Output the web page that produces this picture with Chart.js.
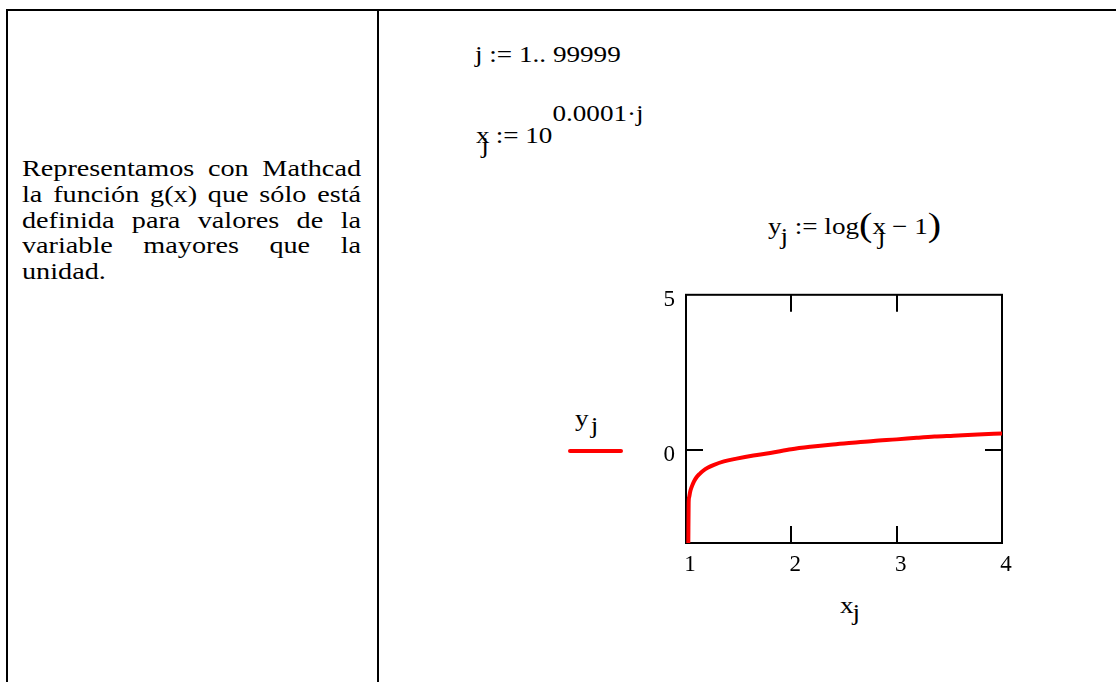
<!DOCTYPE html>
<html>
<head>
<meta charset="utf-8">
<script src="https://cdn.jsdelivr.net/npm/chart.js@4/dist/chart.umd.min.js"></script>
<style>
  html, body { margin: 0; padding: 0; background: #fff; }
  #page {
    position: relative; width: 1116px; height: 682px; overflow: hidden;
    font-family: "Liberation Serif", "Times New Roman", serif; color: #000;
  }
  .rule { position: absolute; background: #000; }
  .desc {
    position: absolute; left: 22px; top: 156px; width: 282.5px;
    font-size: 23.5px; line-height: 25.75px;
    transform: scaleX(1.2); transform-origin: 0 0;
  }
  .desc div { text-align: justify; text-align-last: justify; white-space: nowrap; }
  .desc div.last { text-align-last: left; }
  .m {
    position: absolute; font-size: 23px; line-height: 23px; white-space: nowrap;
    transform: scaleX(1.18); transform-origin: 0 0;
  }
  .sub { position: relative; top: 10px; }
  .sup { position: relative; top: -22px; }
  .big { font-size: 34px; position: relative; top: 2px; }
  #plot { position: absolute; left: 540px; top: 270px; }
  .key { position: absolute; left: 568px; top: 449px; width: 55px; height: 4px; border-radius: 2px; background: #ff0000; }
</style>
</head>
<body>
<div id="page">
  <!-- table rules -->
  <div class="rule" style="left:6px;top:9px;width:1110px;height:2px;"></div>
  <div class="rule" style="left:6px;top:9px;width:2px;height:673px;"></div>
  <div class="rule" style="left:377px;top:9px;width:2px;height:673px;"></div>

  <div class="desc">
    <div>Representamos con Mathcad</div>
    <div>la función g(x) que sólo está</div>
    <div>definida para valores de la</div>
    <div>variable mayores que la</div>
    <div class="last">unidad.</div>
  </div>

  <!-- worksheet definitions -->
  <div class="m" style="left:475px;top:43px;">j := 1.. 99999</div>
  <div class="m" style="left:476px;top:124px;">x<span class="sub" style="margin-left:-7px;">j</span> := 10<span class="sup">0.0001·j</span></div>
  <div class="m" style="left:768px;top:211px;">y<span class="sub" style="margin-left:-1px;">j</span> := log<span class="big">(</span>x<span class="sub" style="margin-left:-7px;">j</span> &#8722; 1<span class="big">)</span></div>

  <!-- series key and axis titles -->
  <div class="m" style="left:575px;top:407px;">y <span class="sub" style="top:7px;margin-left:-4px;">j</span></div>
  <div class="key"></div>
  <div class="m" style="left:840px;top:594px;">x<span class="sub" style="top:7px;margin-left:-1px;">j</span></div>

  <canvas id="plot" width="500" height="370" style="width:500px;height:370px;"></canvas>
</div>

<script>
// g(x) = log(x - 1), sampled points of the plotted curve
const xValues = [1.022, 1.025, 1.030, 1.040, 1.054, 1.075, 1.10, 1.13, 1.16, 1.21, 1.26, 1.36, 1.48, 1.64, 1.80,
                 2.00, 2.18, 2.37, 2.58, 2.78, 3.00, 3.19, 3.36, 3.54, 3.77, 4.00];
const yValues = [-3.00, -1.72, -1.52, -1.34, -1.19, -1.02, -0.88, -0.77, -0.68, -0.57, -0.49, -0.37, -0.28, -0.18, -0.10,
                 0.02, 0.10, 0.17, 0.23, 0.29, 0.34, 0.39, 0.43, 0.46, 0.50, 0.53];

// axis limits and labelled ticks
const xRange = [1, 4];
const yRange = [-3, 5];
const xTickLabels = [1, 2, 3, 4];
const yTickLabels = [0, 5];

const tickFont = { family: '"Liberation Serif", "Times New Roman", serif', size: 23 };

// Mathcad-style box with short inward tick marks at the interior ticks
const boxFrame = {
  id: 'boxFrame',
  beforeDatasetsDraw(chart) {
    const { ctx, chartArea: a, scales } = chart;
    const len = 17;
    ctx.save();
    ctx.strokeStyle = '#000';
    ctx.lineWidth = 2;
    ctx.strokeRect(a.left, a.top, a.right - a.left, a.bottom - a.top);
    ctx.beginPath();
    xTickLabels.filter(v => v > xRange[0] && v < xRange[1]).forEach(v => {
      const px = Math.round(scales.x.getPixelForValue(v));
      ctx.moveTo(px, a.top); ctx.lineTo(px, a.top + len);
      ctx.moveTo(px, a.bottom); ctx.lineTo(px, a.bottom - len);
    });
    yTickLabels.filter(v => v > yRange[0] && v < yRange[1]).forEach(v => {
      const py = Math.round(scales.y.getPixelForValue(v));
      ctx.moveTo(a.left, py); ctx.lineTo(a.left + len, py);
      ctx.moveTo(a.right, py); ctx.lineTo(a.right - len, py);
    });
    ctx.stroke();
    ctx.restore();
  }
};

new Chart(document.getElementById('plot'), {
  type: 'line',
  data: {
    datasets: [{
      label: 'y_j',
      data: xValues.map((x, i) => ({ x, y: yValues[i] })),
      borderColor: '#ff0000',
      borderWidth: 4,
      pointRadius: 0,
      cubicInterpolationMode: 'monotone',
      fill: false
    }]
  },
  options: {
    responsive: false,
    animation: false,
    devicePixelRatio: 1,
    layout: { padding: { left: 0, top: 23, right: 38, bottom: 0 } },
    plugins: { legend: { display: false }, tooltip: { enabled: false } },
    scales: {
      x: {
        type: 'linear', min: xRange[0], max: xRange[1],
        afterBuildTicks: s => { s.ticks = xTickLabels.map(v => ({ value: v })); },
        afterFit: s => { s.height = 97; },
        grid: { display: false, drawTicks: false },
        border: { display: false },
        ticks: { font: tickFont, color: '#000', padding: 8, labelOffset: 4, maxRotation: 0 }
      },
      y: {
        type: 'linear', min: yRange[0], max: yRange[1],
        afterBuildTicks: s => { s.ticks = yTickLabels.map(v => ({ value: v })); },
        afterFit: s => { s.width = 146; },
        grid: { display: false, drawTicks: false },
        border: { display: false },
        ticks: { font: tickFont, color: '#000', padding: 11, labelOffset: 5 }
      }
    }
  },
  plugins: [boxFrame]
});
</script>
</body>
</html>
